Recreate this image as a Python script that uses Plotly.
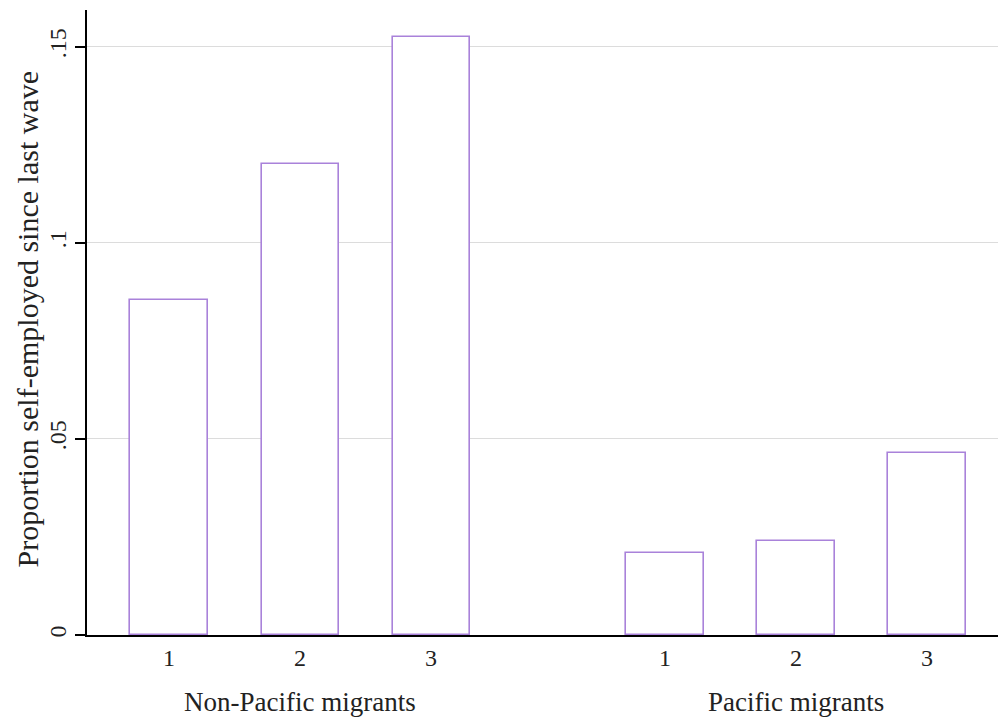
import plotly.graph_objects as go

groups = ["Non-Pacific migrants", "Pacific migrants"]
categories = ["1", "2", "3"]
values_non_pacific = [0.0855, 0.1200, 0.1526]
values_pacific = [0.0209, 0.0240, 0.0464]
y_ticks = [0, 0.05, 0.10, 0.15]
y_tick_labels = ["0", ".05", ".1", ".15"]

group_gap = 1.786  # distance between last bar of one group and first of next
bar_color = "#a982da"
font_family = "Liberation Serif, DejaVu Serif, serif"
text_color = "#222222"

fig = go.Figure()
all_x, all_text = [], []
for gi, (gname, vals) in enumerate(zip(groups, [values_non_pacific, values_pacific])):
    offset = gi * (len(categories) - 1 + group_gap)
    xs = [1 + offset + i for i in range(len(categories))]
    all_x += xs
    all_text += categories
    fig.add_trace(go.Bar(
        x=xs, y=vals, width=0.588,
        marker=dict(color="white", line=dict(color=bar_color, width=1.6)),
        showlegend=False, hoverinfo="y",
    ))
    fig.add_annotation(
        x=xs[1], y=0, xref="x", yref="y", text=gname, showarrow=False,
        yanchor="middle", yshift=-67, font=dict(family=font_family, size=27, color=text_color),
    )

fig.add_annotation(
    x=0, y=0.5, xref="paper", yref="paper", text="Proportion self-employed since last wave",
    showarrow=False, textangle=-90, xanchor="center", yanchor="middle", xshift=-60, yshift=3,
    font=dict(family=font_family, size=30, color=text_color),
)

fig.update_layout(
    width=998, height=717,
    margin=dict(l=87, r=0, t=10, b=82),
    plot_bgcolor="white", paper_bgcolor="white",
    font=dict(family=font_family, color=text_color),
    bargap=0,
)
fig.update_xaxes(
    range=[0.374, 7.328], tickvals=all_x, ticktext=all_text,
    showgrid=False, zeroline=False, showline=True, linecolor="black", linewidth=1.5,
    ticks="", tickfont=dict(size=24, family=font_family, color=text_color),
)
fig.update_yaxes(
    range=[0, 0.1594], tickvals=y_ticks, ticktext=y_tick_labels, tickangle=-90,
    showgrid=True, gridcolor="#dcdcdc", gridwidth=1.3, zeroline=False,
    showline=True, linecolor="black", linewidth=1.5,
    ticks="outside", ticklen=10, tickcolor="black", tickwidth=1.5,
    tickfont=dict(size=24, family=font_family, color=text_color),
)

fig.write_html("out.html", config={"displayModeBar": False},
               post_script="document.body.style.margin='0';")
